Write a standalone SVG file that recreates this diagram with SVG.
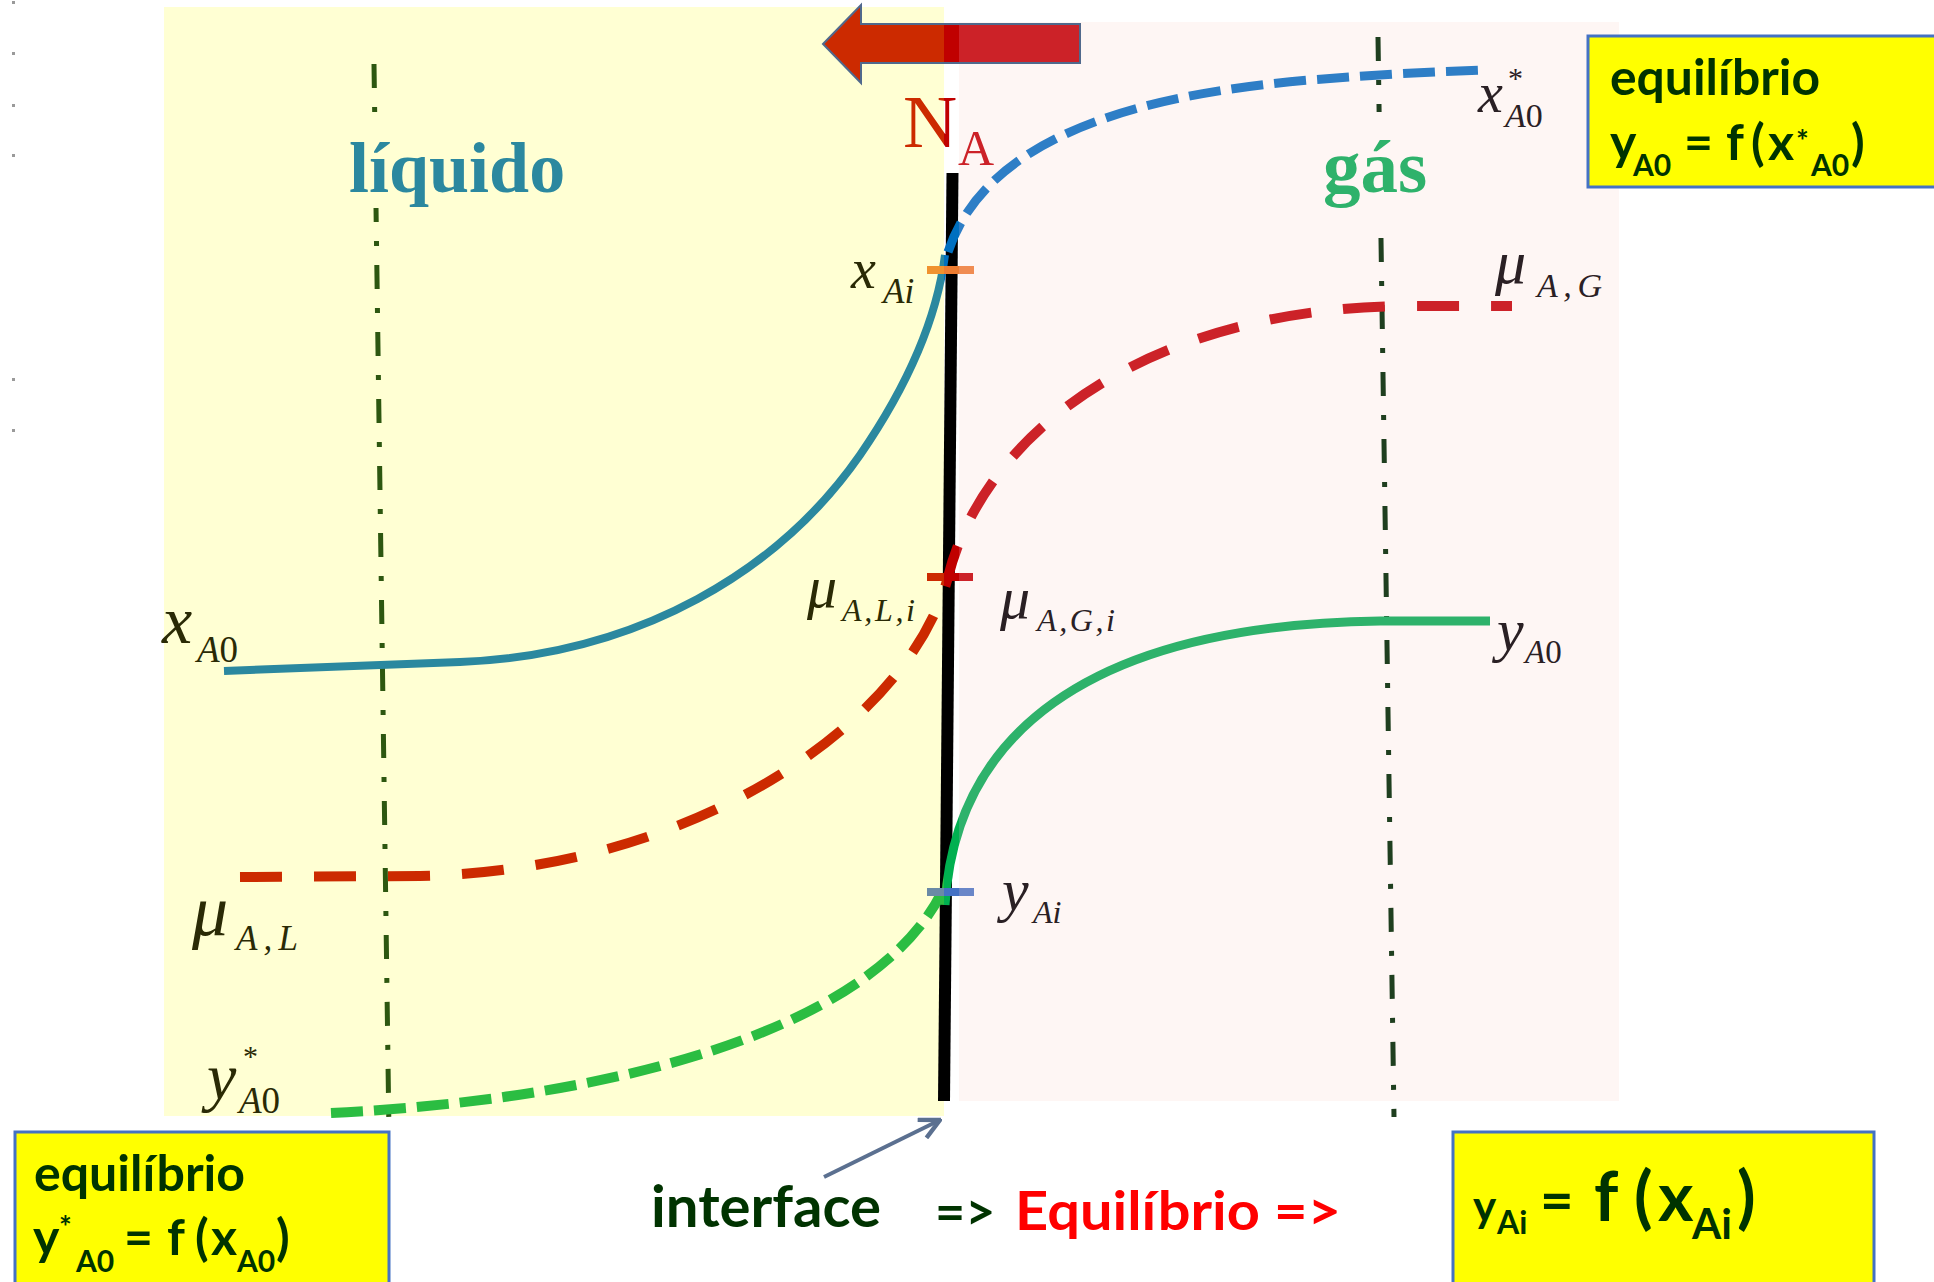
<svg xmlns="http://www.w3.org/2000/svg" width="1934" height="1282" viewBox="0 0 1934 1282">
<style>
 .lab{font-family:"Liberation Serif","Times New Roman",serif;font-style:italic}
 .up{font-style:normal}
 .ly{fill:#2a2a05}
 .lp{fill:#2a2024}
 .box{fill:#ffff00;stroke:#4472c4;stroke-width:3}
 .bt{font-family:Lato,"Liberation Sans",sans-serif;font-weight:bold;fill:#003300}
 .vl{fill:none;stroke-width:5;stroke-dasharray:24 19 5 19}
 .crv{fill:none;stroke-linecap:butt}
</style>
<defs>
 <linearGradient id="gRed" gradientUnits="userSpaceOnUse" x1="0" y1="0" x2="1934" y2="0">
  <stop offset="0" stop-color="#cc2a00"/><stop offset="0.4881" stop-color="#cc2a00"/>
  <stop offset="0.4881" stop-color="#c00000"/><stop offset="0.4959" stop-color="#c00000"/>
  <stop offset="0.4959" stop-color="#cc2228"/><stop offset="1" stop-color="#cc2228"/>
 </linearGradient>
 <linearGradient id="gBlue" gradientUnits="userSpaceOnUse" x1="0" y1="0" x2="1934" y2="0">
  <stop offset="0" stop-color="#2b889f"/><stop offset="0.4881" stop-color="#2b889f"/>
  <stop offset="0.4881" stop-color="#0070c0"/><stop offset="0.4959" stop-color="#0070c0"/>
  <stop offset="0.4959" stop-color="#2e7ec6"/><stop offset="1" stop-color="#2e7ec6"/>
 </linearGradient>
 <linearGradient id="gGreen" gradientUnits="userSpaceOnUse" x1="0" y1="0" x2="1934" y2="0">
  <stop offset="0" stop-color="#2bbd42"/><stop offset="0.4881" stop-color="#2bbd42"/>
  <stop offset="0.4881" stop-color="#00b050"/><stop offset="0.4959" stop-color="#00b050"/>
  <stop offset="0.4959" stop-color="#2eb26b"/><stop offset="1" stop-color="#2eb26b"/>
 </linearGradient>
 <linearGradient id="gOrange" gradientUnits="userSpaceOnUse" x1="0" y1="0" x2="1934" y2="0">
  <stop offset="0" stop-color="#f0922e"/><stop offset="0.4881" stop-color="#f0922e"/>
  <stop offset="0.4881" stop-color="#ed7d31"/><stop offset="0.4959" stop-color="#ed7d31"/>
  <stop offset="0.4959" stop-color="#f08c52"/><stop offset="1" stop-color="#f08c52"/>
 </linearGradient>
 <linearGradient id="gTick" gradientUnits="userSpaceOnUse" x1="0" y1="0" x2="1934" y2="0">
  <stop offset="0" stop-color="#6a8aa6"/><stop offset="0.4881" stop-color="#6a8aa6"/>
  <stop offset="0.4881" stop-color="#4472c4"/><stop offset="0.4959" stop-color="#4472c4"/>
  <stop offset="0.4959" stop-color="#6a86c8"/><stop offset="1" stop-color="#6a86c8"/>
 </linearGradient>
 <marker id="ah" viewBox="0 0 12 12" refX="11" refY="6" markerWidth="6" markerHeight="6" orient="auto" markerUnits="strokeWidth">
  <path d="M1,1 L11,6 L1,11" fill="none" stroke="#5b7090" stroke-width="2.2"/>
 </marker>
</defs>
<rect width="1934" height="1282" fill="#ffffff"/>
<g id="dots" fill="#9a9a9a">
 <rect x="12" y="1" width="3" height="3"/><rect x="12" y="52" width="3" height="3"/>
 <rect x="12" y="104" width="3" height="3"/><rect x="12" y="154" width="3" height="3"/>
 <rect x="12" y="378" width="3" height="3"/><rect x="12" y="429" width="3" height="3"/>
</g>
<g id="phases">
 <rect id="liquid-phase" x="164" y="7" width="780" height="1109" fill="#ffffd3"/>
 <rect id="gas-phase" x="959" y="22" width="660" height="1079" fill="#fef6f4"/>
</g>
<g id="axes">
 <line class="vl" x1="374" y1="64" x2="389" y2="1134" stroke="#2d5710"/>
 <line class="vl" x1="1378" y1="37" x2="1394" y2="1117" stroke="#1f3f1f"/>
 <rect x="345" y="117" width="225" height="91" fill="#ffffd3"/>
 <rect x="1318" y="112" width="117" height="121" fill="#fef6f4"/>
</g>
<g id="flux-arrow">
 <polygon points="823,44 861,5 861,24 1080,24 1080,63 861,63 861,83" fill="url(#gRed)" stroke="#50698c" stroke-width="2"/>
</g>
<g id="interface-line">
 <line x1="952.5" y1="173" x2="944" y2="1101" stroke="#000000" stroke-width="12"/>
</g>
<g id="connectors">
 <path class="crv" d="M240,877 L420,876 C700,870 910,720 948,577 C985,430 1150,310 1400,306 L1512,306" stroke="url(#gRed)" stroke-width="10" stroke-dasharray="42 32"/>
 <path class="crv" d="M224,671 C330,667 400,664 460,662 C640,655 780,570 860,455 C915,375 938,310 945,255" stroke="url(#gBlue)" stroke-width="8"/>
 <path class="crv" d="M948,252 C985,140 1130,95 1310,80 C1400,73 1450,71 1486,70" stroke="url(#gBlue)" stroke-width="9" stroke-dasharray="32 11"/>
 <path class="crv" d="M331,1113 C600,1100 870,1035 942,892" stroke="url(#gGreen)" stroke-width="10" stroke-dasharray="32 11"/>
 <path class="crv" d="M945,905 C955,740 1080,625 1380,621 L1490,621" stroke="url(#gGreen)" stroke-width="9"/>
 <line x1="927" y1="270" x2="974" y2="270" stroke="url(#gOrange)" stroke-width="8"/>
 <line x1="927" y1="577" x2="973" y2="577" stroke="url(#gRed)" stroke-width="8"/>
 <line x1="927" y1="892" x2="974" y2="892" stroke="url(#gTick)" stroke-width="8"/>
 <line x1="824" y1="1177" x2="940" y2="1120" stroke="#5b7090" stroke-width="4" marker-end="url(#ah)"/>
</g>
<g id="phase-labels">
 <text x="349" y="192" font-family="'Liberation Serif',serif" font-weight="bold" font-size="72" fill="#2b889f">líquido</text>
 <text x="1323" y="192" font-family="'Liberation Serif',serif" font-weight="bold" font-size="75" fill="#2eb26b">gás</text>
</g>
<g id="NA">
 <text font-family="'Liberation Serif',serif" fill="url(#gRed)"><tspan x="903" y="147" font-size="75">N</tspan><tspan x="958" y="165" font-size="50" fill="#cc2228">A</tspan></text>
</g>
<g id="labels">
 <g id="lab-xA0star"><text class="lab lp"><tspan x="1478" y="112" font-size="56">x</tspan><tspan class="up" x="1508" y="88" font-size="30">*</tspan><tspan x="1505" y="127" font-size="34">A<tspan class="up">0</tspan></tspan></text></g>
 <g id="lab-xAi"><text class="lab ly"><tspan x="851" y="288" font-size="56">x</tspan><tspan x="883" y="303" font-size="35">Ai</tspan></text></g>
 <g id="lab-muAG"><text class="lab lp"><tspan x="1495" y="283" font-size="62">μ</tspan></text><text class="lab lp" x="1537" y="297" font-size="34" textLength="65" lengthAdjust="spacing">A,G</text></g>
 <g id="lab-xA0"><text class="lab ly"><tspan x="162" y="643" font-size="68">x</tspan><tspan x="197" y="662" font-size="37">A<tspan class="up">0</tspan></tspan></text></g>
 <g id="lab-muALi"><text class="lab ly"><tspan x="807" y="607" font-size="60">μ</tspan></text><text class="lab ly" x="842" y="621" font-size="32" textLength="73" lengthAdjust="spacing">A,L,i</text></g>
 <g id="lab-muAGi"><text class="lab lp"><tspan x="1000" y="618" font-size="60">μ</tspan></text><text class="lab lp" x="1037" y="631" font-size="32" textLength="78" lengthAdjust="spacing">A,G,i</text></g>
 <g id="lab-yA0"><text class="lab lp"><tspan x="1497" y="650" font-size="60">y</tspan><tspan x="1525" y="663" font-size="33">A<tspan class="up">0</tspan></tspan></text></g>
 <g id="lab-yAi"><text class="lab lp"><tspan x="1002" y="910" font-size="60">y</tspan><tspan x="1033" y="923" font-size="32">Ai</tspan></text></g>
 <g id="lab-muAL"><text class="lab ly"><tspan x="192" y="935" font-size="72">μ</tspan></text><text class="lab ly" x="236" y="950" font-size="35" textLength="62" lengthAdjust="spacing">A,L</text></g>
 <g id="lab-yA0star"><text class="lab ly"><tspan x="207" y="1099" font-size="66">y</tspan><tspan class="up" x="243" y="1066" font-size="30">*</tspan><tspan x="239" y="1113" font-size="37">A<tspan class="up">0</tspan></tspan></text></g>
</g>
<g id="box-top-right">
 <rect class="box" x="1588" y="36" width="350" height="151"/>
 <text class="bt" x="1610" y="95" font-size="50" textLength="210" lengthAdjust="spacingAndGlyphs">equilíbrio</text>
 <text class="bt" font-size="50"><tspan x="1610" y="160">y</tspan><tspan x="1633" y="176" font-size="30">A0</tspan><tspan x="1684" y="160">=</tspan><tspan x="1726" y="160">f</tspan><tspan x="1751" y="160">(</tspan><tspan x="1768" y="160">x</tspan><tspan x="1796" y="152" font-size="30">*</tspan><tspan x="1811" y="176" font-size="30">A0</tspan><tspan x="1851" y="160">)</tspan></text>
</g>
<g id="box-bottom-left">
 <rect class="box" x="15" y="1132" width="374" height="154"/>
 <text class="bt" x="34" y="1191" font-size="50" textLength="211" lengthAdjust="spacingAndGlyphs">equilíbrio</text>
 <text class="bt" font-size="50"><tspan x="33" y="1255">y</tspan><tspan x="59" y="1238" font-size="30">*</tspan><tspan x="76" y="1272" font-size="30">A0</tspan><tspan x="124" y="1255">=</tspan><tspan x="167" y="1255">f</tspan><tspan x="195" y="1255">(</tspan><tspan x="211" y="1255">x</tspan><tspan x="237" y="1272" font-size="30">A0</tspan><tspan x="276" y="1255">)</tspan></text>
</g>
<g id="box-bottom-right">
 <rect class="box" x="1453" y="1132" width="421" height="154"/>
 <text class="bt"><tspan x="1473" y="1222" font-size="44">y</tspan><tspan x="1497" y="1234" font-size="32">Ai</tspan><tspan x="1540" y="1221" font-size="58">=</tspan><tspan x="1594" y="1221" font-size="68">f</tspan><tspan x="1634" y="1221" font-size="68">(</tspan><tspan x="1658" y="1221" font-size="68">x</tspan><tspan x="1692" y="1239" font-size="42">Ai</tspan><tspan x="1737" y="1221" font-size="68">)</tspan></text>
</g>
<g id="bottom-caption">
 <text class="bt" x="651" y="1227" font-size="58" textLength="230" lengthAdjust="spacingAndGlyphs">interface</text>
 <text class="bt" x="935" y="1230" font-size="52">=&gt;</text>
 <text class="bt" x="1015" y="1230" font-size="54" style="fill:#ff0000" textLength="326" lengthAdjust="spacingAndGlyphs">Equilíbrio =&gt;</text>
</g>
</svg>
